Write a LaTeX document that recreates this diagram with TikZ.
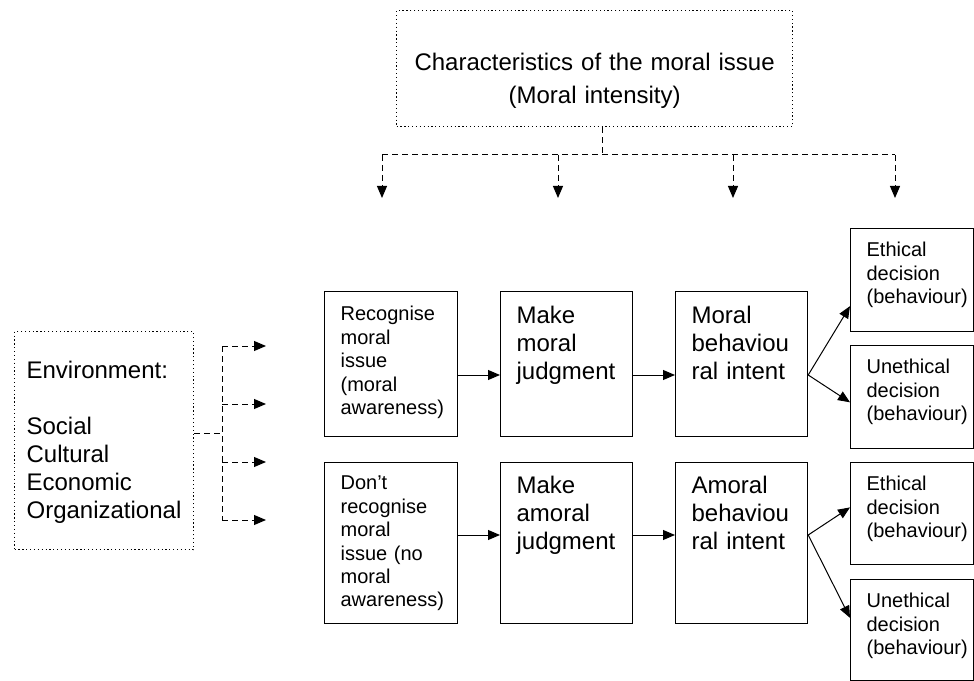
\documentclass[tikz,border=0pt]{standalone}
\usepackage{fontspec}
\setmainfont{Liberation Sans}
\usetikzlibrary{arrows.meta,calc}

\begin{document}
\begin{tikzpicture}[x=0.75pt, y=-0.75pt,
    box/.style={draw, line width=0.9pt, anchor=north west, inner ysep=0pt, inner xsep=12pt, align=left},
    bigtxt/.style={font=\fontsize{18}{21}\selectfont},
    smalltxt/.style={font=\fontsize{15}{17.6}\selectfont},
    arr/.style={-{Triangle[length=9pt,width=7.5pt]}, line width=0.75pt},
    dline/.style={line width=0.75pt, dash pattern=on 4.5pt off 3pt},
    darr/.style={arr, dash pattern=on 4.5pt off 3pt}]
    \useasboundingbox (0,0) rectangle (974,681);

    % dotted boxes
    \node[box, dotted, align=center, font=\fontsize{18}{24.75}\selectfont, text width=273pt, text height=45pt, text depth=42pt] (issue) at (396,10) {Characteristics of the moral issue\\(Moral intensity)};
    \node[box, dotted, bigtxt, inner xsep=9pt, text width=116.25pt, text height=35.25pt, text depth=128.25pt] (env) at (14,331) {Environment:\\[21pt]Social\\Cultural\\Economic\\Organizational};

    % upper row
    \node[box, smalltxt, text width=75.75pt, text height=21.75pt, text depth=87pt] (aware) at (324,291) {Recognise\\moral\\issue\\(moral\\awareness)};
    \node[box, bigtxt, text width=75pt, text height=24pt, text depth=84.75pt] (judge) at (500,291) {Make\\moral\\judgment};
    \node[box, bigtxt, text width=75pt, text height=24pt, text depth=84.75pt] (intent) at (675,291) {Moral\\behaviou\\ral intent};
    \node[box, smalltxt, text width=68.25pt, text height=21pt, text depth=56.25pt] (eth) at (850,228) {Ethical\\decision\\(behaviour)};
    \node[box, smalltxt, text width=68.25pt, text height=21pt, text depth=56.25pt] (uneth) at (850,345) {Unethical\\decision\\(behaviour)};

    % lower row
    \node[box, smalltxt, text width=75.75pt, text height=20.25pt, text depth=100.5pt] (unaware) at (324,462) {Don't\\recognise\\moral\\issue (no\\moral\\awareness)};
    \node[box, bigtxt, text width=75pt, text height=23.25pt, text depth=97.5pt] (amjudge) at (500,462) {Make\\amoral\\judgment};
    \node[box, bigtxt, text width=75pt, text height=23.25pt, text depth=97.5pt] (amintent) at (675,462) {Amoral\\behaviou\\ral intent};
    \node[box, smalltxt, text width=68.25pt, text height=21pt, text depth=55.5pt] (eth2) at (850,462) {Ethical\\decision\\(behaviour)};
    \node[box, smalltxt, text width=68.25pt, text height=21pt, text depth=54.75pt] (uneth2) at (850,579) {Unethical\\decision\\(behaviour)};

    \coordinate (r1) at (0,375);
    \coordinate (r2) at (0,535);
    \draw[arr] (aware.east |- r1) -- (judge.west |- r1);
    \draw[arr] (judge.east |- r1) -- (intent.west |- r1);
    \draw[arr] (intent.east |- r1) -- ($(eth.north west)!0.75!(eth.south west)$);
    \draw[arr] (intent.east |- r1) -- ($(uneth.north west)!0.55!(uneth.south west)$);
    \draw[arr] (unaware.east |- r2) -- (amjudge.west |- r2);
    \draw[arr] (amjudge.east |- r2) -- (amintent.west |- r2);
    \draw[arr] (amintent.east |- r2) -- ($(eth2.north west)!0.44!(eth2.south west)$);
    \draw[arr] (amintent.east |- r2) -- ($(uneth2.north west)!0.38!(uneth2.south west)$);

    % dashed feeds from the issue
    \coordinate (hub) at (602,155);
    \foreach \x [count=\i] in {382,558,733,895} {
        \coordinate (top\i) at (\x,155);
        \coordinate (tip\i) at (\x,198);
    }
    \draw[dline] (issue.south -| hub) -- (hub);
    \draw[dline] (top1) -- (top4);
    \foreach \i in {1,...,4} \draw[darr] (top\i) -- (tip\i);

    % dashed feeds from the environment
    \coordinate (lhub) at (222,433);
    \foreach \y [count=\i] in {346,404,462,520} {
        \coordinate (lb\i) at (222,\y);
        \coordinate (lt\i) at (266,\y);
    }
    \draw[dline] (env.east |- lhub) -- (lhub);
    \draw[dline] (lb1) -- (lb4);
    \foreach \i in {1,...,4} \draw[darr] (lb\i) -- (lt\i);

\end{tikzpicture}
\end{document}
